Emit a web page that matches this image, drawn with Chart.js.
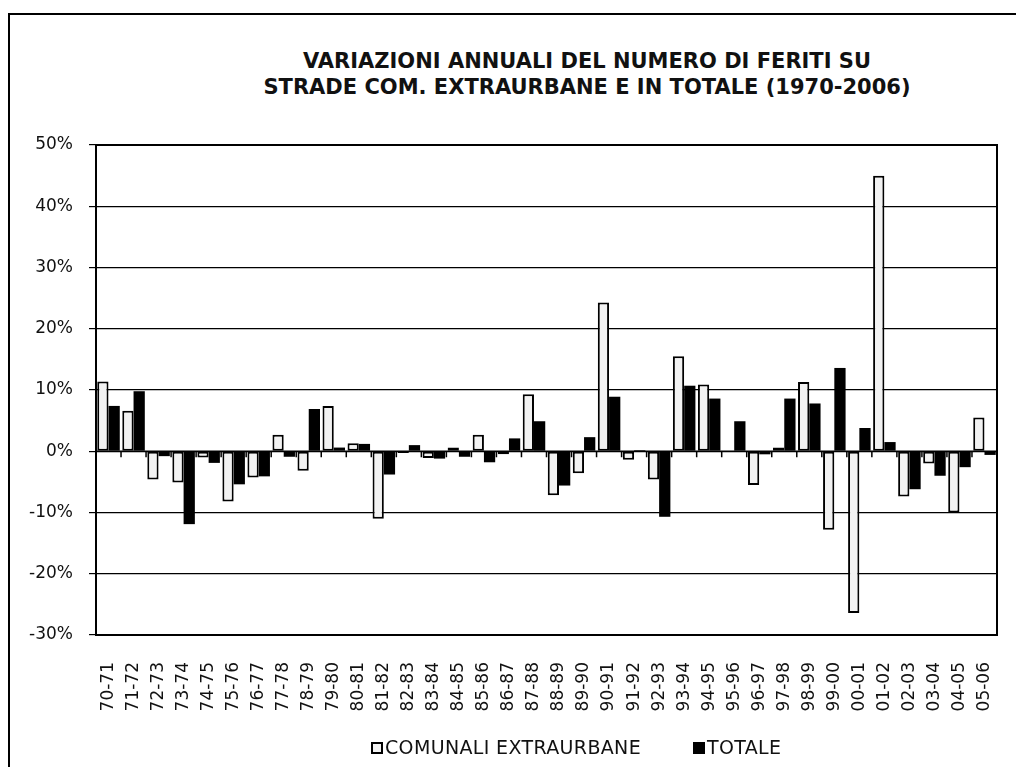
<!DOCTYPE html>
<html>
<head>
<meta charset="utf-8">
<script src="https://cdn.jsdelivr.net/npm/chart.js@4"></script>
<style>
  html, body { margin: 0; padding: 0; background: #fff; }
  #wrap { position: relative; width: 1016px; height: 767px; overflow: hidden; }
  #frame { position: absolute; left: 8px; top: 13px; width: 1020px; height: 800px; border-left: 2px solid #000; border-top: 2px solid #000; }
  #title { position: absolute; left: 0; width: 1174px; top: 48px; text-align: center; font-family: "DejaVu Sans", sans-serif; font-weight: bold; font-size: 21px; line-height: 26px; color: #111; }
  #legend { position: absolute; top: 736px; left: 0; width: 1016px; font-family: "DejaVu Sans", sans-serif; font-size: 19px; color: #111; letter-spacing: 0.35px; }
  .li { position: absolute; white-space: nowrap; }
  .box { display: inline-block; width: 12px; height: 12px; vertical-align: 0px; margin-right: 2px; box-sizing: border-box; }
  canvas { position: absolute; left: 0; top: 0; }
</style>
</head>
<body>
<div id="wrap">
  <div id="frame"></div>
  <div id="title">VARIAZIONI ANNUALI DEL NUMERO DI FERITI SU<br>STRADE COM. EXTRAURBANE E IN TOTALE (1970-2006)</div>
  <canvas id="c" width="1016" height="767"></canvas>
  <div id="legend">
    <span class="li" style="left:371px"><span class="box" style="border:2px solid #000;background:#f2f2f2"></span>COMUNALI EXTRAURBANE</span>
    <span class="li" style="left:693px"><span class="box" style="background:#000"></span>TOTALE</span>
  </div>
</div>
<script>
const categories = ["70-71","71-72","72-73","73-74","74-75","75-76","76-77","77-78","78-79","79-80",
  "80-81","81-82","82-83","83-84","84-85","85-86","86-87","87-88","88-89","89-90",
  "90-91","91-92","92-93","93-94","94-95","95-96","96-97","97-98","98-99","99-00",
  "00-01","01-02","02-03","03-04","04-05","05-06"];
const comunaliExtraurbane = [11.4, 6.6, -4.6, -5.1, -1.0, -8.2, -4.3, 2.7, -3.2, 7.4,
  1.3, -11.0, -0.3, -1.1, 0.6, 2.7, -0.5, 9.3, -7.2, -3.6,
  24.3, -1.4, -4.6, 15.5, 10.9, 0.1, -5.5, 0.6, 11.3, -12.8,
  -26.4, 45.0, -7.4, -2.0, -10.0, 5.5];
const totale = [7.4, 9.8, -0.8, -11.9, -1.9, -5.4, -4.1, -0.9, 6.9, 0.6,
  1.2, -3.8, 1.0, -1.2, -0.9, -1.8, 2.1, 4.9, -5.6, 2.3,
  8.9, 0.2, -10.7, 10.7, 8.6, 4.9, -0.5, 8.6, 7.8, 13.6,
  3.8, 1.5, -6.2, -4.0, -2.6, -0.6];
const yTicks = [-30, -20, -10, 0, 10, 20, 30, 40, 50];

const framePlugin = {
  id: 'framePlugin',
  afterDatasetsDraw(chart) {
    const {ctx, chartArea: a, scales: {x, y}} = chart;
    ctx.save();
    ctx.strokeStyle = '#000';
    ctx.lineWidth = 2;
    ctx.strokeRect(a.left, a.top, a.right - a.left, a.bottom - a.top);
    const y0 = y.getPixelForValue(0);
    const step = x.getPixelForValue(1) - x.getPixelForValue(0);
    ctx.lineWidth = 1.5;
    ctx.beginPath();
    ctx.moveTo(a.left, y0); ctx.lineTo(a.right, y0);
    const n = categories.length;
    for (let i = 0; i <= n; i++) {
      const px = x.getPixelForValue(0) - step / 2 + i * step;
      ctx.moveTo(px, y0); ctx.lineTo(px, y0 + 6);
    }
    ctx.stroke();
    ctx.restore();
  }
};

new Chart(document.getElementById('c'), {
  type: 'bar',
  data: {
    labels: categories,
    datasets: [
      { label: 'COMUNALI EXTRAURBANE', data: comunaliExtraurbane, backgroundColor: '#f2f2f2', borderColor: '#000', borderWidth: 2, borderSkipped: false, categoryPercentage: 0.9, barPercentage: 1.0 },
      { label: 'TOTALE', data: totale, backgroundColor: '#000', borderColor: '#000', borderWidth: 0, categoryPercentage: 0.9, barPercentage: 1.0 }
    ]
  },
  options: {
    responsive: false,
    animation: false,
    devicePixelRatio: 1,
    layout: { padding: { left: 8, right: 19, top: 145, bottom: 0 } },
    plugins: { legend: { display: false }, title: { display: false }, tooltip: { enabled: false } },
    scales: {
      x: {
        grid: { display: false, drawTicks: false },
        border: { display: false },
        ticks: { minRotation: 90, maxRotation: 90, autoSkip: false, padding: 27, color: '#111', font: { family: 'DejaVu Sans', size: 17 } },
        afterFit(s) { s.height = 767 - 635; s.paddingLeft = 0; s.paddingRight = 0; }
      },
      y: {
        min: -30, max: 50,
        afterBuildTicks(s) { s.ticks = yTicks.map(v => ({ value: v })); },
        grid: { color: '#000', lineWidth: 1.2, tickLength: 7, drawTicks: true },
        border: { display: true, color: '#000', width: 2 },
        ticks: { padding: 16, color: '#111', font: { family: 'DejaVu Sans', size: 17 }, callback: v => v + '%' },
        afterFit(s) { s.width = 88; s.paddingTop = 0; s.paddingBottom = 0; }
      }
    }
  },
  plugins: [framePlugin]
});
</script>
</body>
</html>
